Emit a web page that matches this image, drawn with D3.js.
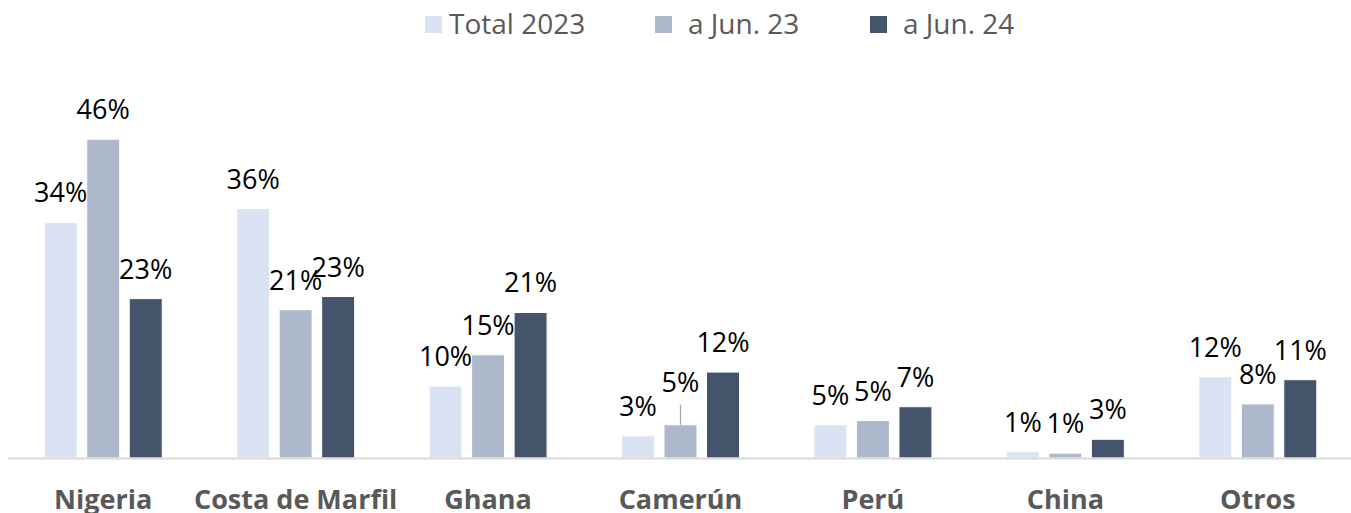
<!DOCTYPE html>
<html>
<head>
<meta charset="utf-8">
<script src="https://cdn.jsdelivr.net/npm/d3@7"></script>
<style>
  body { margin: 0; background: #fff; }
  svg { display: block; }
</style>
</head>
<body>
<div id="chart"></div>
<script>
// data (percent)
const categories = ["Nigeria", "Costa de Marfil", "Ghana", "Camerún", "Perú", "China", "Otros"];
const seriesNames = ["Total 2023", "a Jun. 23", "a Jun. 24"];
const total2023 = [34.0, 36.0, 10.4, 3.2, 4.8, 0.9, 11.7];
const jun23 = [46.0, 21.4, 14.9, 4.8, 5.4, 0.7, 7.8];
const jun24 = [23.0, 23.3, 21.0, 12.4, 7.4, 2.7, 11.3];
const colors = ["#dae3f3", "#adb9ca", "#44546a"];

const seriesValues = [total2023, jun23, jun24];

let width = 1351;
let height = 513;

let svg = d3.select("#chart")
            .append("svg")
            .attr("width", width)
            .attr("height", height);

// scales
let x0 = d3.scaleBand()
           .domain(categories)
           .range([7, 1354]);

let x1 = d3.scaleBand()
           .domain(seriesNames)
           .range([-59, 59])
           .paddingInner(0.224);

let yScale = d3.scaleLinear()
               .domain([0, 50])
               .range([458, 111.5]);

let pct = d3.format(".0%");

// flatten into rows
let rows = [];
categories.forEach((c, i) => {
    seriesNames.forEach((s, j) => {
        rows.push({cat: c, series: s, si: j, value: seriesValues[j][i]});
    });
});

// bars
svg.append("g").selectAll("rect")
    .data(rows)
    .enter()
    .append("rect")
    .attr("x", d => x0(d.cat) + x0.bandwidth() / 2 + x1(d.series))
    .attr("y", d => yScale(d.value))
    .attr("width", x1.bandwidth())
    .attr("height", d => yScale(0) - yScale(d.value))
    .style("fill", d => colors[d.si])
    .style("stroke", "#fff")
    .style("stroke-width", 1);

// baseline
svg.append("line")
    .attr("x1", 8)
    .attr("x2", width)
    .attr("y1", yScale(0) + 0.5)
    .attr("y2", yScale(0) + 0.5)
    .style("stroke", "#d9d9d9")
    .style("stroke-width", 2);

// one label was pushed up in the original with a leader line
let lifted = d => d.cat === "Camerún" && d.si === 1;
let barMid = d => x0(d.cat) + x0.bandwidth() / 2 + x1(d.series) + x1.bandwidth() / 2;

svg.append("g").selectAll("line")
    .data(rows.filter(lifted))
    .enter()
    .append("line")
    .attr("x1", d => barMid(d))
    .attr("x2", d => barMid(d))
    .attr("y1", d => yScale(d.value))
    .attr("y2", d => yScale(d.value) - 20)
    .style("stroke", "#a6a6a6")
    .style("stroke-width", 1.3);

svg.append("g").selectAll("text")
    .data(rows)
    .enter()
    .append("text")
    .attr("x", d => barMid(d))
    .attr("y", d => yScale(d.value) - (lifted(d) ? 33 : 20))
    .attr("text-anchor", "middle")
    .style("font-family", "'Open Sans', sans-serif")
    .style("font-size", "27px")
    .style("fill", "#000")
    .text(d => pct(d.value / 100));

// category labels
svg.append("g").selectAll("text")
    .data(categories)
    .enter()
    .append("text")
    .attr("x", d => x0(d) + x0.bandwidth() / 2)
    .attr("y", 509)
    .attr("text-anchor", "middle")
    .style("font-family", "'Open Sans', sans-serif")
    .style("font-weight", "bold")
    .style("font-size", "27px")
    .style("fill", "#595959")
    .text(d => d);

// legend
let legendX = [425, 655, 870];
let legend = svg.append("g").selectAll("g")
    .data(seriesNames)
    .enter()
    .append("g")
    .attr("transform", (d, i) => `translate(${legendX[i]}, 0)`);

legend.append("rect")
    .attr("x", 0)
    .attr("y", 16)
    .attr("width", 17)
    .attr("height", 17)
    .style("fill", (d, i) => colors[i]);

legend.append("text")
    .attr("x", (d, i) => i === 0 ? 24 : 33)
    .attr("y", 34)
    .style("font-family", "'Open Sans', sans-serif")
    .style("font-size", "28px")
    .style("fill", "#595959")
    .text(d => d);
</script>
</body>
</html>
